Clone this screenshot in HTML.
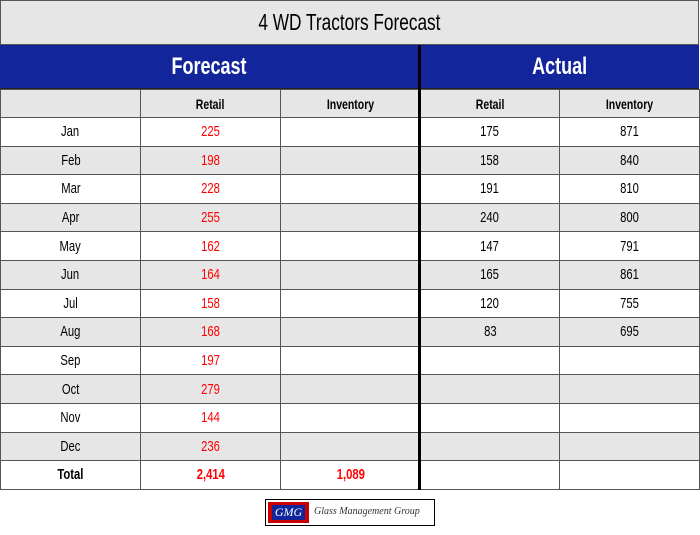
<!DOCTYPE html>
<html><head><style>
body{margin:0;width:700px;height:535px;background:#fff;position:relative;font-family:"Liberation Sans",sans-serif;overflow:hidden}
.a{position:absolute;box-sizing:border-box}
.t{display:flex;align-items:center;justify-content:center}
.n{display:inline-block;transform:scaleX(.75);white-space:nowrap}
</style></head><body>
<div class="a t" style="left:0;top:0;width:699px;height:45px;background:#e6e6e6;border:1px solid #555;font-size:23px;"><span class="n">4 WD Tractors Forecast</span></div>
<div class="a t" style="left:0;top:45px;width:419px;height:44px;background:#12259a;color:#fff;font-size:24px;font-weight:bold;border-bottom:1px solid #222"><span class="n">Forecast</span></div>
<div class="a t" style="left:421px;top:45px;width:278px;height:44px;background:#12259a;color:#fff;font-size:24px;font-weight:bold;border-bottom:1px solid #222"><span class="n">Actual</span></div>
<div id="g"></div>
<div class="a" style="left:418px;top:45px;width:3px;height:445px;background:#000;z-index:5"></div>
<div class="a" style="left:265px;top:499px;width:170px;height:27px;border:1px solid #000;background:#fff">
 <div class="a t" style="left:2px;top:2px;width:41px;height:21px;background:#c00"><div class="t" style="width:33px;height:15px;background:#12259a;color:#fff;font-style:italic;font-size:12px;font-family:'Liberation Serif',serif">GMG</div></div>
 <div class="a" style="left:48px;top:6px;font-family:'Liberation Serif',serif;font-style:italic;font-size:10px;color:#333">Glass Management Group</div>
</div>
<script>
const rows=[["Jan",225,"",175,871],["Feb",198,"",158,840],["Mar",228,"",191,810],["Apr",255,"",240,800],["May",162,"",147,791],["Jun",164,"",165,861],["Jul",158,"",120,755],["Aug",168,"",83,695],["Sep",197,"","",""],["Oct",279,"","",""],["Nov",144,"","",""],["Dec",236,"","",""],["Total","2,414","1,089","",""]];
const xs=[0,140,280,420,559,699];let h="";
const hd=["","Retail","Inventory","Retail","Inventory"];
function cell(i,y,hh,txt,bg,st){h+=`<div class="a t" style="left:${xs[i]}px;top:${y}px;width:${xs[i+1]-xs[i]+1}px;height:${hh+1}px;background:${bg};border:1px solid #555;font-size:15px;${st}"><span class="n">${txt}</span></div>`}
for(let i=0;i<5;i++)cell(i,89,28,hd[i],"#e6e6e6","font-weight:bold;font-size:14px;");
rows.forEach((r,k)=>{const y=117+k*28.6;const bg=k%2?"#e6e6e6":"#fff";const tot=k==12;
for(let i=0;i<5;i++)cell(i,y,28.6,r[i],bg,(i==1||i==2?"color:#f00;":"")+(tot?"font-weight:bold;":""));});
document.getElementById("g").outerHTML=h;
</script>
</body></html>
